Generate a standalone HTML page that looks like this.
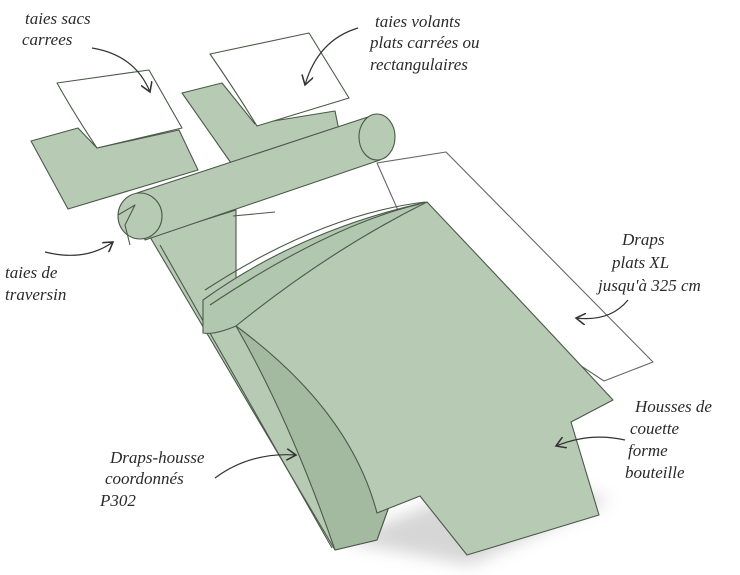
<!DOCTYPE html>
<html><head><meta charset="utf-8"><style>
html,body{margin:0;padding:0;background:#fff;width:740px;height:575px;overflow:hidden}
svg{display:block}
text{font-family:"Liberation Serif",serif;font-style:italic;fill:#2a2a2a;font-size:17px}
</style></head><body>
<svg width="740" height="575" viewBox="0 0 740 575" xmlns="http://www.w3.org/2000/svg">
<defs>
<filter id="sh" x="-20%" y="-20%" width="140%" height="140%"><feGaussianBlur stdDeviation="8"/></filter>
<marker id="ah" markerWidth="10" markerHeight="10" refX="8" refY="5" orient="auto"><path d="M0,0 L8,5 L0,10" fill="none" stroke="#333" stroke-width="1.3"/></marker>
</defs>
<g fill="#b7cbb4" stroke="#4a5a48" stroke-width="1.1" stroke-linejoin="round">
<path d="M340,540 L470,565 L610,500 L520,470 Z" fill="#bbb" stroke="none" filter="url(#sh)" opacity="0.6"/>
<path d="M31,141 L78,128 L97,148 L179,130 L198,170 L68,209 Z"/>
<path d="M57,83 L149,70 L182,128 L97,148 Q75,115 57,83 Z" fill="#fff"/>
<path d="M182,93 L222,83 L255,124 L335,111 L340,135 L231,163 Z"/>
<path d="M210,54 L309,33 L349,98 L257,126 Q235,90 210,54 Z" fill="#fff"/>
<!-- flat sheet -->
<path d="M377,163 L446,152 L653,362 L604,381 L420,260 Z" fill="#fff" stroke="#666"/>
<!-- fitted sheet -->
<path d="M150,237 L236,210 L236,300 L420,420 L377,540 L335,550 Z"/>
<path d="M236,300 L420,420 L377,540 L335,550 Q290,420 236,326 Z" fill="#a3b9a0"/>
<path d="M160,245 L332,548 M233,216 L275,212" fill="none"/>
<!-- bolster -->
<path d="M137,193 L377,114 L380,160 L145,240 Z"/>
<ellipse cx="377" cy="137" rx="18" ry="23"/>
<ellipse cx="140" cy="216" rx="22" ry="23"/>
<path d="M118,215 L135,205 L125,225 L130,245" fill="none"/>
<!-- duvet -->
<path d="M203,333 Q230,260 427,202 Q520,300 613,400 L571,422 L599,515 L467,555 L420,496 L377,513 Q350,410 236,326 Z"/>
<path d="M203,300 Q300,230 427,202 Q330,250 236,326 Q215,335 203,333 Z" fill="#b2c7af"/>
<path d="M205,290 Q320,215 425,202 M210,305 Q330,225 420,204" fill="none"/>
</g>
<g fill="none" stroke="#333" stroke-width="1.2">
<path d="M92,48 Q135,55 150,92" marker-end="url(#ah)"/>
<path d="M358,28 Q318,40 305,85" marker-end="url(#ah)"/>
<path d="M45,252 Q85,262 113,242" marker-end="url(#ah)"/>
<path d="M628,300 Q610,322 576,318" marker-end="url(#ah)"/>
<path d="M625,440 Q590,432 556,446" marker-end="url(#ah)"/>
<path d="M215,478 Q250,452 296,455" marker-end="url(#ah)"/>
</g>
<text x="25" y="24">taies sacs</text>
<text x="22" y="45">carrees</text>
<text x="375" y="27">taies volants</text>
<text x="370" y="48">plats carrées ou</text>
<text x="370" y="70">rectangulaires</text>
<text x="5" y="278">taies de</text>
<text x="5" y="300">traversin</text>
<text x="622" y="245">Draps</text>
<text x="612" y="268">plats XL</text>
<text x="598" y="291">jusqu'à 325 cm</text>
<text x="635" y="412">Housses de</text>
<text x="630" y="434">couette</text>
<text x="628" y="456">forme</text>
<text x="625" y="478">bouteille</text>
<text x="110" y="463">Draps-housse</text>
<text x="105" y="484">coordonnés</text>
<text x="100" y="506">P302</text>
</svg>
</body></html>
